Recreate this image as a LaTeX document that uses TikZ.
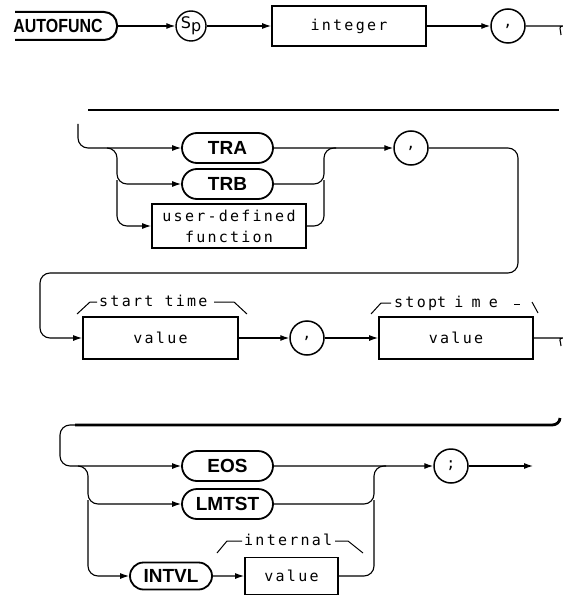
\documentclass[tikz,border=0pt]{standalone}
\usepackage{fontspec}
\usepackage{graphicx}
\usetikzlibrary{arrows.meta,shapes.misc}
\setmainfont{Liberation Sans}
\newfontfamily\lblfont{DejaVu Sans Mono}[LetterSpace=15]
\newfontfamily\spfont{DejaVu Sans}
\begin{document}
\begin{tikzpicture}[x=1pt,y=-1pt,
  conn/.style={line width=1.1pt, rounded corners=10pt},
  arr/.style={-{Latex[length=9pt,width=6pt]}},
  kwbox/.style={rounded rectangle, draw, line width=1.8pt, minimum width=91pt, minimum height=30pt, inner sep=0pt, font={\fontsize{19}{19}\selectfont\bfseries}},
  valbox/.style={rectangle, draw, line width=1.8pt, inner sep=0pt, font={\lblfont\fontsize{15}{16}\selectfont}},
  circ/.style={circle, draw, line width=1.5pt, minimum size=34pt, inner sep=0pt, font={\lblfont\fontsize{15}{15}\selectfont}},
  lbl/.style={anchor=base west, inner sep=0pt, font={\lblfont\fontsize{15}{15}\selectfont}},
  brk/.style={line width=1pt},
  heavy/.style={line width=2.8pt}
]
\fill[white] (0,0) rectangle (562,596);
\useasboundingbox (0,0) rectangle (562,596);

% ---------- row 1
\node[inner sep=0pt, font={\fontsize{19}{19}\selectfont\bfseries}] (auto) at (58,26) {\scalebox{0.84}[1]{AUTOFUNC}};
\draw[line width=2pt, rounded corners=13pt] (15,12) -- (117,12) -- (117,40) -- (15,40);
\coordinate (autoE) at (117,26);
\node[circle, draw, line width=1.4pt, minimum size=30pt, inner sep=0pt] (sp) at (191,26) {\spfont\fontsize{16}{16}\selectfont S\raisebox{-3pt}{p}};
\node[valbox, minimum width=154pt, minimum height=40pt] (int) at (349,26) {integer};
\node[circ] (c1) at (508,26) {,};
\coordinate (e1) at (561,35);
\draw[conn,arr] (autoE) -- (sp);
\draw[conn,arr] (sp) -- (int);
\draw[conn,arr] (int) -- (c1);
\draw[conn] (c1) -- (553,26) to[out=0,in=90] (e1);

\coordinate (t1a) at (88,110);
\coordinate (t1b) at (559,110);
\draw[heavy] (t1a) -- (t1b);

% ---------- row 2
\coordinate (s2) at (78,124);
\node[kwbox] (tra) at (227.5,148) {TRA};
\node[kwbox] (trb) at (227.5,184) {TRB};
\node[valbox, minimum width=154pt, minimum height=44pt, align=center, font={\lblfont\fontsize{15}{21}\selectfont}] (udf) at (229,226) {user-defined\\function};
\node[circ] (c2) at (411,148) {,};
\coordinate (j1) at (107,148);
\draw[conn,arr] (s2) -- (78,148) -- (tra.west);
\draw[conn,arr] (j1) -- (117,148) -- (117,184) -- (trb.west);
\draw[conn,arr] (117,180) -- (117,226) -- (udf.west);
\draw[conn,arr] (tra) -- (c2);
\draw[conn] (trb.east) -- (324,184) -- (324,148) -- (336,148);
\draw[conn] (udf.east) -- (324,226) -- (324,180);

% ---------- row 3
\node[valbox, minimum width=155pt, minimum height=42pt] (v1) at (160.5,338) {value};
\node[circ] (c3) at (307,338) {,};
\node[valbox, minimum width=154pt, minimum height=42pt] (v2) at (456,338) {value};
\draw[conn,arr] (c2.east) -- (518,148) -- (518,273) -- (40,273) -- (40,338) -- (v1.west);
\draw[conn,arr] (v1) -- (c3);
\draw[conn,arr] (c3) -- (v2);
\draw[conn] (v2.east) -- (553,338) to[out=0,in=90] (561,346);

\node[lbl] (st) at (99,306) {start time};
\draw[brk] (77,314) -- (90,302) -- (97,302);
\draw[brk] (214,302) -- (234,302) -- (247,314);

\node[lbl] (stp) at (394,307) {stop{\addfontfeature{LetterSpace=55}time}};
\draw[brk] (371,314) -- (381,303) -- (391,303);
\draw[brk] (514,304) -- (520,304);
\draw[brk] (532,302) -- (538,313);

% ---------- row 4
\coordinate (t2a) at (75,425);
\coordinate (t2b) at (552,425);
\coordinate (t2c) at (560,418);
\draw[heavy] (t2a) -- (t2b) to[out=0,in=-90] (t2c);

\node[kwbox] (eos) at (227.5,466) {EOS};
\node[kwbox] (lmt) at (227.5,504) {LMTST};
\node[kwbox, minimum width=82pt, minimum height=27pt] (intvl) at (171,576) {INTVL};
\node[valbox, minimum width=93pt, minimum height=37pt] (v3) at (291.5,576) {value};
\node[circ] (c4) at (451,466) {;};
\coordinate (out) at (533,466);
\coordinate (j2) at (78,466);

\draw[conn,arr] (t2a) -- (60,425) -- (60,466) -- (eos.west);
\draw[conn,arr] (j2) -- (88,466) -- (88,504) -- (lmt.west);
\draw[conn,arr] (88,500) -- (88,576) -- (intvl.west);
\draw[conn,arr] (intvl) -- (v3);
\draw[conn,arr] (eos) -- (c4);
\draw[conn] (lmt.east) -- (374,504) -- (374,466) -- (386,466);
\draw[conn] (v3.east) -- (374,576) -- (374,500);
\draw[conn,arr] (c4) -- (out);

\node[lbl] (il) at (244,545) {internal};
\draw[brk] (217,553) -- (227,541) -- (242,541);
\draw[brk] (335,541) -- (348,541) -- (363,553);
\end{tikzpicture}
\end{document}
